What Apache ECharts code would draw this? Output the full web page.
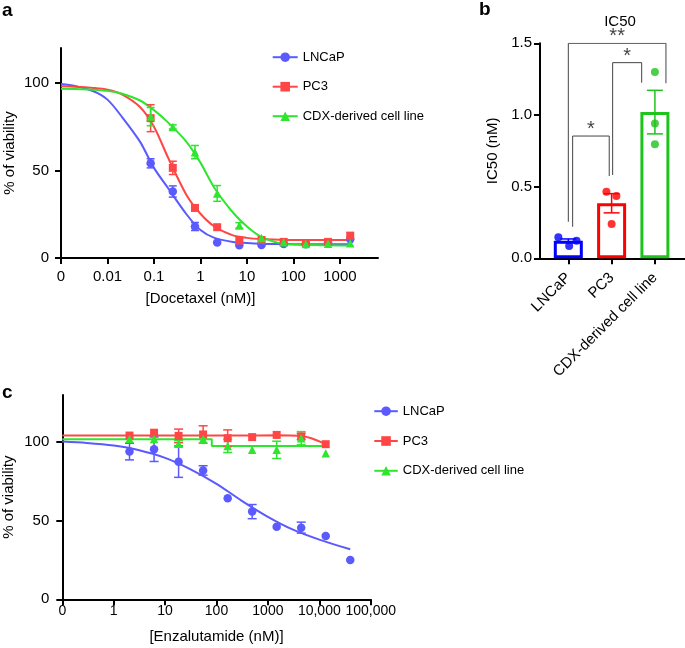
<!DOCTYPE html>
<html>
<head>
<meta charset="utf-8">
<script src="https://cdn.jsdelivr.net/npm/echarts@6/dist/echarts.min.js"></script>
<style>
html, body { margin: 0; padding: 0; background: #fff; }
#main { width: 685px; height: 648px; }
</style>
</head>
<body>
<div id="main"></div>
<script>
// ---- panel a: docetaxel dose response ----
var cellLines = ['LNCaP', 'PC3', 'CDX-derived cell line'];
var docConc = [0.0847, 0.254, 0.762, 2.29, 6.86, 20.6, 61.7, 185, 556, 1667];
var docLncap = [54.1, 38.0, 18.0, 8.8, 7.3, 7.5, 8.0, 7.9, 9.0, 10.7];
var docLncapErr = [2.6, 3.2, 2.3, 0, 0, 0, 0, 0, 0, 0];
var docPc3 = [79.9, 51.5, 28.6, 17.6, 10.0, 10.3, 9.2, 8.4, 9.2, 12.8];
var docPc3Err = [7.7, 3.8, 0, 0, 0, 0, 0, 0, 0, 0];
var docCdx = [80.8, 74.9, 60.5, 36.9, 18.6, 11.5, 9.0, 8.0, 8.2, 8.4];
var docCdxErr = [5.2, 1.2, 3.8, 4.5, 1.6, 0, 0, 0, 0, 0];

// fitted curves
var docFitX = [0.001, 0.002, 0.005, 0.01, 0.02, 0.05, 0.1, 0.2, 0.5, 1, 2, 5, 10, 20, 50, 100, 1667];
var docFitLncap = [99.4, 98.3, 95.3, 90.5, 81.0, 66.5, 51.5, 40.0, 25.0, 16.0, 11.5, 9.2, 8.6, 8.2, 8.0, 7.9, 7.8];
var docFitPc3 = [98.1, 97.9, 97.2, 96.2, 93.7, 86.3, 75.0, 57.5, 36.0, 25.3, 18.0, 12.9, 11.5, 10.8, 10.4, 10.3, 10.3];
var docFitCdx = [96.7, 96.6, 96.2, 95.5, 94.0, 90.0, 84.5, 77.5, 66.4, 54.5, 40.0, 26.0, 18.0, 12.2, 8.5, 7.7, 7.1];
var docTicks = [0.001, 0.01, 0.1, 1, 10, 100, 1000];

// ---- panel b: IC50 ----
var ic50Mean = [0.123, 0.384, 1.02];
var ic50Sem = [0.012, 0.067, 0.152];
var ic50Reps = [[0.146, 0.086, 0.123], [0.465, 0.435, 0.24], [1.30, 0.94, 0.795]];
var ic50Jitter = [[-0.23, 0.02, 0.19], [-0.12, 0.11, 0], [0, 0, 0]];
// brackets: [from, to, top, left foot, right foot, label]
var brackets = [
    [0.1, 0.945, 0.853, 0.22, 0.574, '*'],
    [1.024, 1.694, 1.365, 0.581, 1.225, '*'],
    [0, 2.255, 1.5, 0.255, 1.221, '**']
];

// ---- panel c: enzalutamide dose response ----
var enzConc = [2.03, 6.1, 18.3, 54.9, 165, 494, 1481, 4444, 13333, 40000];
var enzLncap = [94.0, 95.5, 87.6, 82.0, 64.3, 55.8, 46.2, 45.6, 40.3, 25.0];
var enzLncapErr = [5.3, 7.8, 10, 3, 0, 4.5, 0, 3.5, 0, 0];
var enzPc3 = [104.2, 106.0, 104.0, 104.9, 102.5, 103.2, 104.6, 103.6, 98.7];
var enzPc3Err = [0, 0, 4.3, 5.5, 5.3, 0, 0, 2, 0];
var enzCdx = [102.0, 102.0, 99.0, 102.0, 97.6, 95.1, 95.1, 102.5, 93.0];
var enzCdxErr = [0, 0, 2, 0, 4.2, 0, 5.5, 4.2, 0];

var enzFitLncapX = [0.1, 0.3, 1, 3, 10, 30, 100, 300, 1000, 3000, 10000, 40000];
var enzFitLncapY = [100.4, 99.5, 97.8, 95.0, 90.0, 83.0, 73.5, 63.0, 52.5, 44.5, 38.0, 31.8];
var enzFitPc3X = [0.1, 300, 1500, 4000, 7000, 13333];
var enzFitPc3Y = [104.2, 104.2, 104.4, 104.0, 102.5, 98.7];
var enzFitCdxX = [0.1, 81, 81, 13333];
var enzFitCdxY = [101.9, 101.9, 97.6, 97.6];
var enzTicks = [0.1, 1, 10, 100, 1000, 10000, 100000];

var lineColors = ['#5a5aff', '#ff4646', '#2ee62e'];
var barColors = ['#0000ff', '#ff0000', '#1ec31e'];
var symbols = ['circle', 'rect', 'triangle'];
var FONT = "'Liberation Sans', Arial, sans-serif";

function zip(xs, ys) {
    return xs.map(function (x, i) { return [x, ys[i]]; });
}

function errRows(xs, mean, err) {
    var rows = [];
    for (var i = 0; i < xs.length; i++) {
        if (err[i] > 0) rows.push([xs[i], mean[i] - err[i], mean[i] + err[i]]);
    }
    return rows;
}

function errorBars(cap) {
    return function (params, api) {
        var top = api.coord([api.value(0), api.value(2)]);
        var bot = api.coord([api.value(0), api.value(1)]);
        var style = { stroke: api.visual('color'), lineWidth: 1.5 };
        return {
            type: 'group',
            children: [
                { type: 'line', shape: { x1: top[0], y1: top[1], x2: bot[0], y2: bot[1] }, style: style },
                { type: 'line', shape: { x1: top[0] - cap, y1: top[1], x2: top[0] + cap, y2: top[1] }, style: style },
                { type: 'line', shape: { x1: bot[0] - cap, y1: bot[1], x2: bot[0] + cap, y2: bot[1] }, style: style }
            ]
        };
    };
}

var axisLine = { show: true, onZero: false, lineStyle: { color: '#000', width: 2 } };
var axisTick = { show: true, length: 6, lineStyle: { color: '#000', width: 2 } };
var labelStyle = { color: '#000', fontSize: 15, fontFamily: FONT };
var nameStyle = { color: '#000', fontSize: 15, fontFamily: FONT };

// build dose-response series for one grid
function doseSeries(gridIdx, conc, means, errs, fits, cap, smooths) {
    var out = [];
    for (var k = 0; k < 3; k++) {
        out.push({
            name: cellLines[k], type: 'line', xAxisIndex: gridIdx, yAxisIndex: gridIdx,
            data: zip(fits[k][0], fits[k][1]), smooth: smooths[k], showSymbol: false,
            symbol: symbols[k], color: lineColors[k], lineStyle: { width: 2, color: lineColors[k] },
            z: 2, silent: true
        });
        out.push({
            name: cellLines[k], type: 'custom', xAxisIndex: gridIdx, yAxisIndex: gridIdx,
            data: errRows(conc[k], means[k], errs[k]), renderItem: errorBars(cap),
            encode: { x: 0, y: [1, 2] }, color: lineColors[k], z: 3, silent: true
        });
        out.push({
            name: cellLines[k], type: 'scatter', xAxisIndex: gridIdx, yAxisIndex: gridIdx,
            data: zip(conc[k], means[k]), symbol: symbols[k], symbolSize: k === 1 ? 8 : 8.5,
            color: lineColors[k], itemStyle: { opacity: 1 }, z: 4, silent: true
        });
    }
    return out;
}

var seriesA = doseSeries(0, [docConc, docConc, docConc], [docLncap, docPc3, docCdx],
    [docLncapErr, docPc3Err, docCdxErr],
    [[docFitX, docFitLncap], [docFitX, docFitPc3], [docFitX, docFitCdx]], 4, [0.3, 0.3, 0.3]);
var pc3Conc = enzConc.slice(0, 9);
var seriesC = doseSeries(2, [enzConc, pc3Conc, pc3Conc], [enzLncap, enzPc3, enzCdx],
    [enzLncapErr, enzPc3Err, enzCdxErr],
    [[enzFitLncapX, enzFitLncapY], [enzFitPc3X, enzFitPc3Y], [enzFitCdxX, enzFitCdxY]], 4.5, [0.3, 0.3, false]);

// panel b series
var seriesB = [];
seriesB.push({
    type: 'bar', xAxisIndex: 1, yAxisIndex: 1, barWidth: 29,
    data: ic50Mean.map(function (m, i) {
        return { value: [i, m], itemStyle: { color: '#fff', borderColor: barColors[i], borderWidth: 3 } };
    }),
    z: 2, silent: true
});
for (var g = 0; g < 3; g++) {
    seriesB.push({
        type: 'custom', xAxisIndex: 1, yAxisIndex: 1, color: barColors[g],
        data: [[g, ic50Mean[g] - ic50Sem[g], ic50Mean[g] + ic50Sem[g]]],
        renderItem: errorBars(8), encode: { x: 0, y: [1, 2] }, z: 3, silent: true
    });
    seriesB.push({
        type: 'scatter', xAxisIndex: 1, yAxisIndex: 1, color: barColors[g], symbolSize: 8,
        data: ic50Reps[g].map(function (v, j) { return [g + ic50Jitter[g][j], v]; }),
        z: 4, silent: true
    });
}
brackets.forEach(function (b) {
    seriesB.push({
        type: 'line', xAxisIndex: 1, yAxisIndex: 1, symbol: 'none', silent: true,
        data: [[b[0], b[3]], [b[0], b[2]], [b[1], b[2]], [b[1], b[4]]],
        lineStyle: { color: '#444', width: 1 }, z: 5
    });
    seriesB.push({
        type: 'scatter', xAxisIndex: 1, yAxisIndex: 1, symbolSize: 1, silent: true,
        itemStyle: { color: 'rgba(0,0,0,0)' },
        data: [[(b[0] + b[1]) / 2, b[2]]],
        label: { show: true, position: 'top', distance: -4, formatter: b[5],
                 color: '#111', fontSize: 20, fontFamily: FONT },
        z: 6
    });
});

var myChart = echarts.init(document.getElementById('main'));

var option = {
    animation: false,
    backgroundColor: '#fff',
    title: {
        text: 'IC50', left: 615, top: 9, textAlign: 'center',
        textStyle: { color: '#000', fontSize: 15, fontWeight: 'normal', fontFamily: FONT }
    },
    graphic: [
        { type: 'text', left: 2, top: 1, style: { text: 'a', fontSize: 19, fontWeight: 'bold', fontFamily: FONT, fill: '#000' } },
        { type: 'text', left: 479, top: 0, style: { text: 'b', fontSize: 19, fontWeight: 'bold', fontFamily: FONT, fill: '#000' } },
        { type: 'text', left: 2, top: 383, style: { text: 'c', fontSize: 19, fontWeight: 'bold', fontFamily: FONT, fill: '#000' } }
    ],
    legend: [
        {
            data: cellLines, orient: 'vertical', left: 271.7, top: 50.7, padding: 0,
            itemWidth: 25, itemHeight: 12, itemGap: 16.5, selectedMode: false,
            textStyle: { color: '#000', fontSize: 13, fontFamily: FONT }
        },
        {
            data: cellLines, orient: 'vertical', left: 373.3, top: 404.7, padding: 0,
            itemWidth: 23.5, itemHeight: 12, itemGap: 16.8, selectedMode: false,
            textStyle: { color: '#000', fontSize: 13, fontFamily: FONT }
        }
    ],
    grid: [
        { left: 61, top: 48, right: 307, bottom: 390 },
        { left: 540, top: 43.3, right: 0, bottom: 389.7 },
        { left: 62.3, top: 395, right: 314.3, bottom: 48.7 }
    ],
    xAxis: [
        {
            type: 'log', gridIndex: 0, logBase: 10, min: 0.001, max: 6600,
            axisLine: axisLine, axisTick: Object.assign({ customValues: docTicks }, axisTick),
            splitLine: { show: false },
            axisLabel: Object.assign({ customValues: docTicks, margin: 11,
                formatter: function (v) { return v < 0.005 ? '0' : String(+v.toPrecision(6)); } }, labelStyle),
            name: '[Docetaxel (nM)]', nameLocation: 'middle', nameGap: 33,
            nameTextStyle: Object.assign({ padding: [0, 38, 0, 0] }, nameStyle)
        },
        {
            type: 'value', gridIndex: 1, min: -0.654, max: 2.695,
            axisLine: axisLine, axisTick: Object.assign({ customValues: [0, 1, 2] }, axisTick),
            splitLine: { show: false },
            axisLabel: Object.assign({ customValues: [0, 1, 2], rotate: 45, margin: 17,
                formatter: function (v) { return cellLines[Math.round(v)]; } }, labelStyle)
        },
        {
            type: 'log', gridIndex: 2, logBase: 10, min: 0.1, max: 100000,
            axisLine: axisLine, axisTick: Object.assign({ customValues: enzTicks }, axisTick),
            splitLine: { show: false },
            axisLabel: Object.assign({ customValues: enzTicks, margin: 5,
                formatter: function (v) {
                    if (v < 0.5) return '0';
                    return v >= 10000 ? v.toLocaleString('en-US') : String(Math.round(v));
                } }, labelStyle, { fontSize: 14 }),
            name: '[Enzalutamide (nM)]', nameLocation: 'middle', nameGap: 30,
            nameTextStyle: nameStyle
        }
    ],
    yAxis: [
        {
            type: 'value', gridIndex: 0, min: 0, max: 120,
            axisLine: axisLine, axisTick: Object.assign({ customValues: [0, 50, 100] }, axisTick),
            splitLine: { show: false },
            axisLabel: Object.assign({ customValues: [0, 50, 100], margin: 12 }, labelStyle),
            name: '% of viability', nameLocation: 'middle', nameGap: 44, nameTextStyle: nameStyle
        },
        {
            type: 'value', gridIndex: 1, min: 0, max: 1.5,
            axisLine: axisLine, axisTick: Object.assign({ customValues: [0, 0.5, 1, 1.5] }, axisTick),
            splitLine: { show: false },
            axisLabel: Object.assign({ customValues: [0, 0.5, 1, 1.5], margin: 8,
                formatter: function (v) { return v.toFixed(1); } }, labelStyle),
            name: 'IC50 (nM)', nameLocation: 'middle', nameGap: 40, nameTextStyle: nameStyle
        },
        {
            type: 'value', gridIndex: 2, min: 0, max: 130,
            axisLine: axisLine, axisTick: Object.assign({ customValues: [0, 50, 100] }, axisTick),
            splitLine: { show: false },
            axisLabel: Object.assign({ customValues: [0, 50, 100], margin: 13 }, labelStyle),
            name: '% of viability', nameLocation: 'middle', nameGap: 46, nameTextStyle: nameStyle
        }
    ],
    series: seriesA.concat(seriesB, seriesC)
};

myChart.setOption(option);

window.addEventListener('resize', function () {
    myChart.resize();
});
</script>
</body>
</html>
